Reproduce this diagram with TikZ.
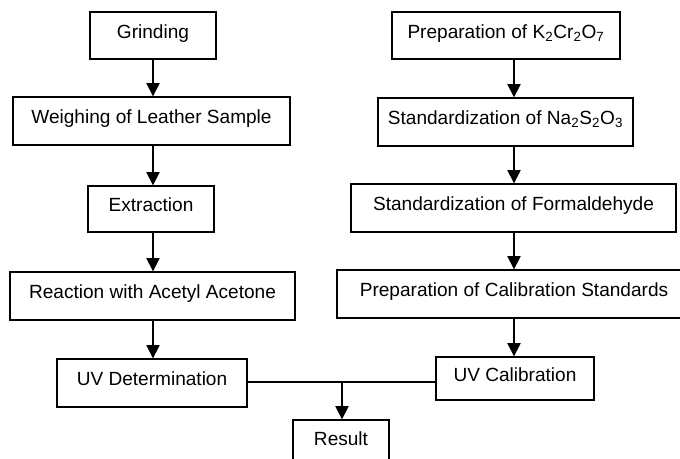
\documentclass[tikz,border=0pt]{standalone}
\usepackage{fontspec}
\setmainfont{Liberation Sans}
\usetikzlibrary{arrows.meta}

\tikzset{every picture/.style={line width=0.75pt}}
\tikzset{
  stepbox/.style={draw, line width=1pt, fill=white, align=center, minimum height=36pt,
    font=\fontsize{14.3}{17}\selectfont, text height=10.5pt, text depth=6.3pt},
  flow/.style={line width=1pt, -{Triangle[width=10pt,length=10pt]}},
  joinline/.style={line width=1pt}
}

\begin{document}
\begin{tikzpicture}[x=0.75pt,y=0.75pt,yscale=-1,xscale=1]
%set diagram left start at 0, and has height of 458
\useasboundingbox (0,0) rectangle (680,458);
\fill[white] (0,0) rectangle (680,458);

%column lines for the arrows
\coordinate (lcol) at (153,0);
\coordinate (rcol) at (514,0);
\coordinate (meet) at (342,382);

% Text Node
\node [stepbox, minimum width=94.5pt, minimum height=35.25pt] (grind) at (153,35.5) {Grinding};
% Text Node
\node [stepbox, minimum width=207.75pt] (weigh) at (151.5,121) {Weighing of Leather Sample};
% Text Node
\node [stepbox, minimum width=94.5pt, minimum height=34.5pt] (extract) at (151,209) {Extraction};
% Text Node
\node [stepbox, minimum width=213.75pt] (react) at (152.5,296) {Reaction with Acetyl Acetone};
% Text Node
\node [stepbox, minimum width=142.5pt] (uvdet) at (152,383) {UV Determination};
% Text Node
\node [stepbox, minimum width=72pt, minimum height=34.5pt] (result) at (341,443) {Result};

% Text Node
\node [stepbox, minimum width=171pt, minimum height=35.25pt] (kcr) at (506,35.5) {Preparation of K\textsubscript{2}Cr\textsubscript{2}O\textsubscript{7}};
% Text Node
\node [stepbox, minimum width=191.25pt] (nas) at (505.5,122) {Standardization of Na\textsubscript{2}S\textsubscript{2}O\textsubscript{3}};
% Text Node
\node [stepbox, minimum width=243.75pt] (form) at (513.5,208) {Standardization of Formaldehyde};
% Text Node
\node [stepbox, minimum width=265.5pt] (calstd) at (514,294) {Preparation of Calibration Standards};
% Text Node
\node [stepbox, minimum width=118.5pt, minimum height=32.25pt] (uvcal) at (515,378.5) {UV Calibration};

%left column arrows
\draw [flow] (grind.south -| lcol) -- (weigh.north -| lcol);
\draw [flow] (weigh.south -| lcol) -- (extract.north -| lcol);
\draw [flow] (extract.south -| lcol) -- (react.north -| lcol);
\draw [flow] (react.south -| lcol) -- (uvdet.north -| lcol);

%right column arrows
\draw [flow] (kcr.south -| rcol) -- (nas.north -| rcol);
\draw [flow] (nas.south -| rcol) -- (form.north -| rcol);
\draw [flow] (form.south -| rcol) -- (calstd.north -| rcol);
\draw [flow] (calstd.south -| rcol) -- (uvcal.north -| rcol);

%both results meet
\draw [joinline] (uvdet.east |- meet) -- (uvcal.west |- meet);
\draw [flow] (meet) -- (result.north -| meet);

\end{tikzpicture}
\end{document}
